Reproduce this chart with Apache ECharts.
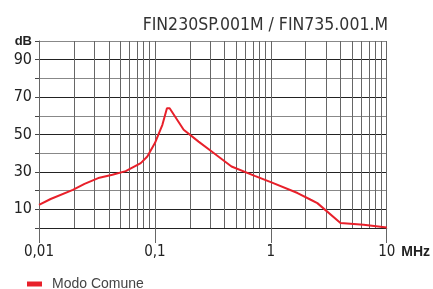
<!DOCTYPE html>
<html>
<head>
<meta charset="utf-8">
<script src="https://cdn.jsdelivr.net/npm/echarts@6/dist/echarts.min.js"></script>
<style>
  html, body { margin: 0; padding: 0; background: #fff; }
  #chart { width: 433px; height: 289px; }
</style>
</head>
<body>
<div id="chart"></div>
<script>
// curve (MHz / dB)
var freqs = [0.01, 0.0126, 0.0196, 0.0247, 0.0332, 0.043, 0.056, 0.0755, 0.086, 0.1,
             0.116, 0.127, 0.134, 0.177, 0.238, 0.309, 0.458, 0.726, 1.0, 1.70,
             2.21, 2.52, 3.99, 6.31, 10];
var modoComune = [12.4, 15.5, 20.4, 23.6, 26.9, 28.5, 30.4, 34.7, 38.2, 45.4,
                  55.2, 64, 64, 52.5, 46.2, 40.9, 32.9, 27.9, 24.5, 18.7,
                  15.1, 13.3, 2.7, 1.8, 0.3];
// minor vertical grid lines of the log paper
var minorLines = [0.02, 0.03, 0.04, 0.05, 0.06, 0.07, 0.08, 0.09,
                  0.2, 0.3, 0.4, 0.5, 0.6, 0.7, 0.8, 0.9,
                  2, 3, 4, 5, 6, 7, 8, 9];
var seriesName = 'Modo Comune';
var title = 'FIN230SP.001M / FIN735.001.M';

var narrow = "'DejaVu Sans Condensed', 'Liberation Sans', sans-serif";

var chart = echarts.init(document.getElementById('chart'));

var points = freqs.map(function (f, i) { return [f, modoComune[i]]; });

chart.setOption({
  animation: false,
  title: {
    text: title,
    right: 40,
    top: 11,
    textStyle: { fontFamily: narrow, fontSize: 17.5, fontWeight: 'normal', color: '#333' }
  },
  legend: {
    data: [seriesName],
    left: 22,
    top: 272,
    itemWidth: 15,
    itemHeight: 5,
    icon: 'rect',
    textStyle: { fontFamily: 'Liberation Sans', fontSize: 14, color: '#444', padding: [0, 0, 0, 5] }
  },
  grid: { left: 39, right: 42, top: 41, bottom: 61 },
  xAxis: {
    type: 'log',
    logBase: 10,
    min: 0.01,
    max: 10,
    name: 'MHz',
    nameLocation: 'end',
    nameGap: 9,
    nameTextStyle: { fontFamily: 'Liberation Sans', fontSize: 14, fontWeight: 'bold', color: '#222',
      verticalAlign: 'top', padding: [17, 0, 0, 0] },
    axisLine: { lineStyle: { color: '#222', width: 1 } },
    axisTick: { show: true, length: 15, lineStyle: { color: '#666' } },
    axisLabel: {
      margin: 17,
      fontFamily: narrow,
      fontSize: 15,
      color: '#222',
      formatter: function (v) { return String(parseFloat(v.toPrecision(3))).replace('.', ','); }
    },
    splitLine: { show: true, lineStyle: { color: '#666', width: 1 } }
  },
  yAxis: {
    type: 'value',
    min: 0,
    max: 100,
    interval: 10,
    axisLine: { show: true, lineStyle: { color: '#666' } },
    axisTick: { show: true, length: 4, lineStyle: { color: '#444' } },
    axisLabel: {
      margin: 7,
      fontFamily: narrow,
      fontSize: 16,
      color: '#222',
      formatter: function (v) {
        if (v === 100) return '{b|dB}';
        return (v % 20 === 10) ? String(v) : '';
      },
      rich: { b: { fontFamily: 'Liberation Sans', fontSize: 13, fontWeight: 'bold', color: '#222' } }
    },
    splitLine: { show: true, lineStyle: { color: ['#888', '#222'], width: 1 } }
  },
  series: [
    {
      name: 'grid',
      type: 'line',
      data: [],
      silent: true,
      z: 1,
      markLine: {
        silent: true,
        symbol: 'none',
        label: { show: false },
        lineStyle: { color: '#666', width: 1, type: 'solid' },
        data: minorLines.map(function (f) { return { xAxis: f }; })
      }
    },
    {
      name: seriesName,
      type: 'line',
      data: points,
      showSymbol: false,
      smooth: false,
      z: 5,
      lineStyle: { color: '#e8202a', width: 2 },
      itemStyle: { color: '#e8202a' }
    }
  ]
});
</script>
</body>
</html>
